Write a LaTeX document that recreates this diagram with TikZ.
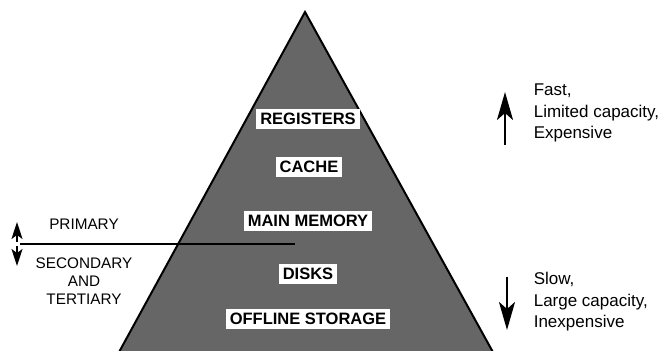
\documentclass[tikz,border=0pt]{standalone}
\usepackage{fontspec}
\setmainfont{Liberation Sans}
\usetikzlibrary{arrows.meta}

\begin{document}
\begin{tikzpicture}[x=1pt,y=1pt,line width=1.6pt,
  level/.style={fill=white,inner xsep=4pt,inner ysep=4pt,text height=12pt,
    text depth=0pt,font=\fontsize{16.5}{20}\selectfont\bfseries},
  side/.style={align=left,anchor=west,inner sep=0pt,
    font=\fontsize{17}{21.5}\selectfont},
  group/.style={align=center,inner sep=0pt,font=\fontsize{15.3}{18}\selectfont},
  tip/.style={line width=2.4pt,-{Stealth[length=28pt,width=16pt,inset=7pt]}},
  smalltip/.style={line width=1.6pt,-{Stealth[length=17pt,width=11pt,inset=4pt]}}]
  \useasboundingbox (0,0) rectangle (662,351);

  \begin{scope}
    \clip (0,0) rectangle (662,351);
    \draw[fill=black!60,line width=2pt] (118,-3) -- (305,339) -- (494,-3) -- cycle;
  \end{scope}

  \node[level] (REG) at (308,232) {REGISTERS};
  \node[level] (CA) at (309,184) {CACHE};
  \node[level] (MM) at (308,130) {MAIN MEMORY};
  \node[level] (DK) at (308,77) {DISKS};
  \node[level] (OS) at (308,32) {OFFLINE STORAGE};

  \coordinate (S1) at (20,107);
  \coordinate (S2) at (295,107);
  \draw (S1) -- (S2);

  \node[group] (PR) at (84,127) {PRIMARY};
  \node[group] (ST) at (84,70) {SECONDARY\\AND\\TERTIARY};

  \coordinate (PA) at (17,109);
  \coordinate (PB) at (17,129);
  \coordinate (SA) at (17,105);
  \coordinate (SB) at (17,85);
  \draw[smalltip] (PA) -- (PB);
  \draw[smalltip] (SA) -- (SB);

  \coordinate (UA) at (505,206);
  \coordinate (UB) at (505,259);
  \coordinate (DA) at (507,74);
  \coordinate (DB) at (507,21);
  \draw[tip] (UA) -- (UB);
  \draw[tip] (DA) -- (DB);

  \node[side] (FAST) at (533,238) {Fast,\\Limited capacity,\\Expensive};
  \node[side] (SLOW) at (533,49) {Slow,\\Large capacity,\\Inexpensive};
\end{tikzpicture}
\end{document}
